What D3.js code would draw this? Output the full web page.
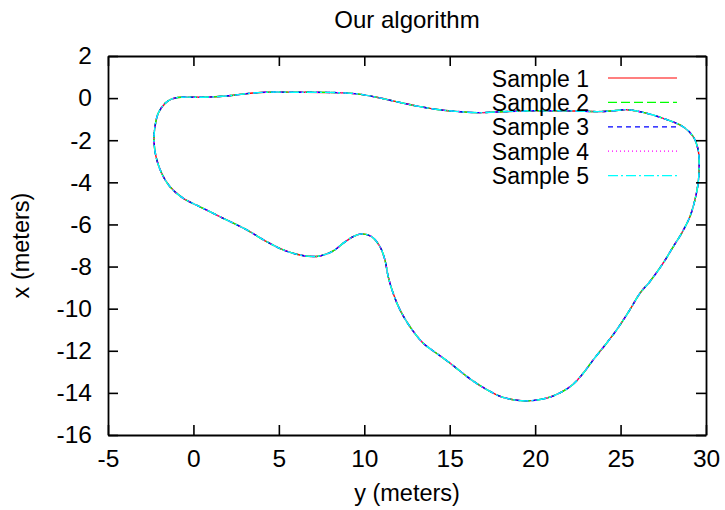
<!DOCTYPE html>
<html>
<head>
<meta charset="utf-8">
<script src="https://cdn.jsdelivr.net/npm/d3@7"></script>
<style>
  html, body { margin: 0; padding: 0; background: #fff; }
  svg text { font-family: "Liberation Sans", Arial, Helvetica, sans-serif; fill: #000; }
</style>
</head>
<body>
<svg id="chart" width="725" height="510"></svg>
<script>
// Closed track, sampled around the loop: horizontal position (y, meters)
const trackY = [
  29.60, 29.54, 29.35, 29.06, 28.57, 28.08, 27.49, 26.71, 26.13, 25.54,
  24.77, 24.18, 23.40, 22.81, 22.21, 21.45, 20.66, 19.40, 18.12, 17.20,
  16.27, 15.60, 14.91, 14.23, 13.45, 12.67, 12.09, 11.69, 11.40, 11.21,
  10.92, 10.43, 9.84, 9.35, 8.77, 8.18, 7.80, 7.21, 6.23, 5.26,
  4.29, 3.12, 1.75, 0.38, -0.59, -1.37, -1.86, -2.19, -2.31, -2.25,
  -2.06, -1.66, -1.26, -0.73, 0.55, 1.93, 3.32, 4.25, 6.09, 8.40,
  9.57, 10.72, 11.88, 13.03, 14.19, 15.35, 16.73, 17.66, 19.97, 22.29,
  23.67, 24.60, 25.37, 26.32, 27.49, 28.66, 29.25, 29.54
];
// ...and vertical position (x, meters) of the same points
const trackX = [
  -3.26, -4.04, -4.84, -5.63, -6.42, -7.06, -7.84, -8.72, -9.27, -10.06,
  -11.01, -11.64, -12.43, -13.07, -13.60, -14.00, -14.25, -14.38, -14.21, -13.86,
  -13.38, -12.96, -12.52, -12.12, -11.64, -10.85, -10.06, -9.27, -8.48, -7.69,
  -7.06, -6.58, -6.45, -6.58, -6.89, -7.26, -7.40, -7.52, -7.45, -7.21,
  -6.82, -6.26, -5.71, -5.16, -4.76, -4.21, -3.57, -2.78, -1.99, -1.36,
  -0.72, -0.25, -0.04, 0.04, 0.04, 0.10, 0.23, 0.28, 0.28, 0.26,
  0.20, 0.04, -0.17, -0.37, -0.53, -0.63, -0.69, -0.66, -0.60, -0.61,
  -0.64, -0.60, -0.55, -0.68, -0.96, -1.36, -1.83, -2.46
];

const sampleNames = ["Sample 1", "Sample 2", "Sample 3", "Sample 4", "Sample 5"];
const sampleColors = ["#ff0000", "#00ff00", "#0000ff", "#ff00ff", "#00ffff"];
const sampleDashes = ["none", "9,4", "5,4", "1,3", "10,3,2,3"];

const xTicks = [-5, 0, 5, 10, 15, 20, 25, 30];
const yTicks = [2, 0, -2, -4, -6, -8, -10, -12, -14, -16];

const titleText = "Our algorithm";
const xLabel = "y (meters)";
const yLabel = "x (meters)";

// Every run traces the same recorded track
const samples = sampleNames.map((name, i) => ({
  name,
  color: sampleColors[i],
  dash: sampleDashes[i],
  points: trackY.map((v, k) => [v, trackX[k]])
}));

const margin = { left: 108, right: 19, top: 56, bottom: 75 };
const W = 725, H = 510;
const tickFs = 24.5, titleFs = 24, labelFs = 23.5, legendFs = 23;

const svg = d3.select("#chart");
const x = d3.scaleLinear().domain([-5, 30]).range([margin.left, W - margin.right]);
const y = d3.scaleLinear().domain([-16, 2]).range([H - margin.bottom, margin.top]);

// Plot curves
const line = d3.line()
  .x(d => x(d[0]))
  .y(d => y(d[1]))
  .curve(d3.curveCatmullRomClosed.alpha(0.5));

const plot = svg.append("g");
samples.forEach(s => {
  plot.append("path")
    .attr("d", line(s.points))
    .attr("fill", "none")
    .attr("stroke", s.color)
    .attr("stroke-width", 1.4)
    .attr("stroke-dasharray", s.dash);
});

// Axes: inward ticks on all four sides, labels on left and bottom
const fmt = d => String(d);
const axisStyle = g => {
  g.attr("font-family", null);
  g.selectAll("path.domain").attr("stroke", "#000").attr("stroke-width", 1.8);
  g.selectAll(".tick line").attr("stroke", "#000").attr("stroke-width", 1.6);
  g.selectAll(".tick text").attr("font-size", tickFs).attr("fill", "#000");
};

svg.append("g")
  .attr("transform", `translate(0,${H - margin.bottom})`)
  .call(d3.axisBottom(x).tickValues(xTicks).tickFormat(fmt).tickSize(-10).tickSizeOuter(0).tickPadding(15))
  .call(axisStyle);

svg.append("g")
  .attr("transform", `translate(0,${margin.top})`)
  .call(d3.axisTop(x).tickValues(xTicks).tickFormat("").tickSize(-10).tickSizeOuter(0))
  .call(axisStyle);

svg.append("g")
  .attr("transform", `translate(${margin.left},0)`)
  .call(d3.axisLeft(y).tickValues(yTicks).tickFormat(fmt).tickSize(-10).tickSizeOuter(0).tickPadding(16))
  .call(axisStyle);

svg.append("g")
  .attr("transform", `translate(${W - margin.right},0)`)
  .call(d3.axisRight(y).tickValues(yTicks).tickFormat("").tickSize(-10).tickSizeOuter(0))
  .call(axisStyle);

// Titles
const cx = (x.range()[0] + x.range()[1]) / 2;
const cy = (y.range()[0] + y.range()[1]) / 2;

svg.append("text")
  .attr("x", cx).attr("y", 28)
  .attr("text-anchor", "middle")
  .attr("font-size", titleFs)
  .text(titleText);

svg.append("text")
  .attr("x", cx).attr("y", 501)
  .attr("text-anchor", "middle")
  .attr("font-size", labelFs)
  .text(xLabel);

svg.append("text")
  .attr("transform", `translate(29,${cy}) rotate(-90)`)
  .attr("text-anchor", "middle")
  .attr("font-size", labelFs)
  .text(yLabel);

// Legend (top right, inside the frame)
const legend = svg.append("g");
samples.forEach((s, i) => {
  const ly = 78 + i * 24.4;
  legend.append("text")
    .attr("x", 589).attr("y", ly + 8.5)
    .attr("text-anchor", "end")
    .attr("font-size", legendFs)
    .text(s.name);
  legend.append("line")
    .attr("x1", 608).attr("x2", 677)
    .attr("y1", ly).attr("y2", ly)
    .attr("stroke", s.color)
    .attr("stroke-width", 1.2)
    .attr("stroke-dasharray", s.dash);
});
</script>
</body>
</html>
